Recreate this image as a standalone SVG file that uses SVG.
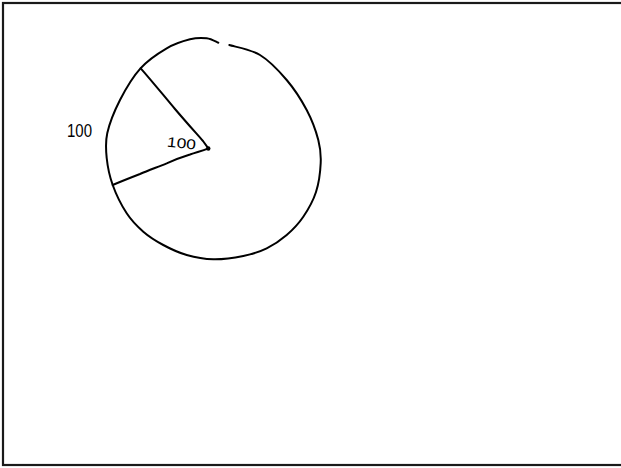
<svg xmlns="http://www.w3.org/2000/svg" width="621" height="468" viewBox="0 0 621 468">
<style>
.ink{fill:none;stroke:#000;stroke-width:2;stroke-linecap:round;stroke-linejoin:round}
.hand{font-family:"Liberation Sans",Arial,sans-serif;fill:#000}
</style>
<rect width="621" height="468" fill="#fff"/>
<rect x="3" y="3" width="640" height="462" fill="none" stroke="#1a1a1a" stroke-width="2.2"/>
<g id="circle">
<path class="ink" d="M218.3,42.7 C216.4,42 211.4,38.9 206.7,38.3 C202,37.7 196.7,37.6 190,39.3 C183.3,41 175,43.5 166.7,48.3 C158.5,53.1 148.3,59.7 140.5,68.3 C132.7,76.9 125.5,89.2 120,100 C114.5,110.8 109.5,123.3 107.3,133 C105.1,142.7 105.8,149.3 106.7,158 C107.6,166.7 109.4,175.8 112.7,185 C116,194.2 121.6,205.5 126.7,213.3 C131.8,221.1 137.2,226.4 143.3,231.7 C149.4,237 156.1,241.1 163.3,245 C170.5,248.9 178.4,252.6 186.7,255 C195,257.4 203.9,259.1 213.3,259.3 C222.7,259.5 234.4,257.8 243.3,256 C252.2,254.2 259.5,251.8 266.7,248.3 C273.9,244.8 280.6,240.3 286.7,235 C292.8,229.7 298.4,223.9 303.3,216.7 C308.2,209.5 313.1,201 316,192 C318.9,183.1 320.3,171.7 320.7,163 C321.1,154.3 320.6,148.8 318.3,140 C316,131.2 312,120 306.7,110 C301.4,100 294.5,89.2 286.7,80 C278.9,70.8 269.6,60.8 260,55 C250.4,49.2 234.4,46.7 229.3,45"/>
</g>
<g id="radii">
<path class="ink" d="M140.7,68.3 C152,81 164,96 175,109 C186,122 196,133 203,141 L208.3,148.3"/>
<path class="ink" d="M208.3,148.3 C202,151 197,152 190,154.5 C182,157 174,160 166.7,163.3 C158,167 149,170 140,174 C131,177.5 122,181 112.7,185"/>
<circle cx="208.3" cy="148.5" r="2.2" fill="#000"/>
</g>
<g id="labels">
<text class="hand" x="167" y="148" font-size="14" textLength="29" lengthAdjust="spacingAndGlyphs" transform="rotate(6 182 143)">100</text>
<text class="hand" x="67" y="136.5" font-size="18" textLength="25" lengthAdjust="spacingAndGlyphs">100</text>
</g>
</svg>
